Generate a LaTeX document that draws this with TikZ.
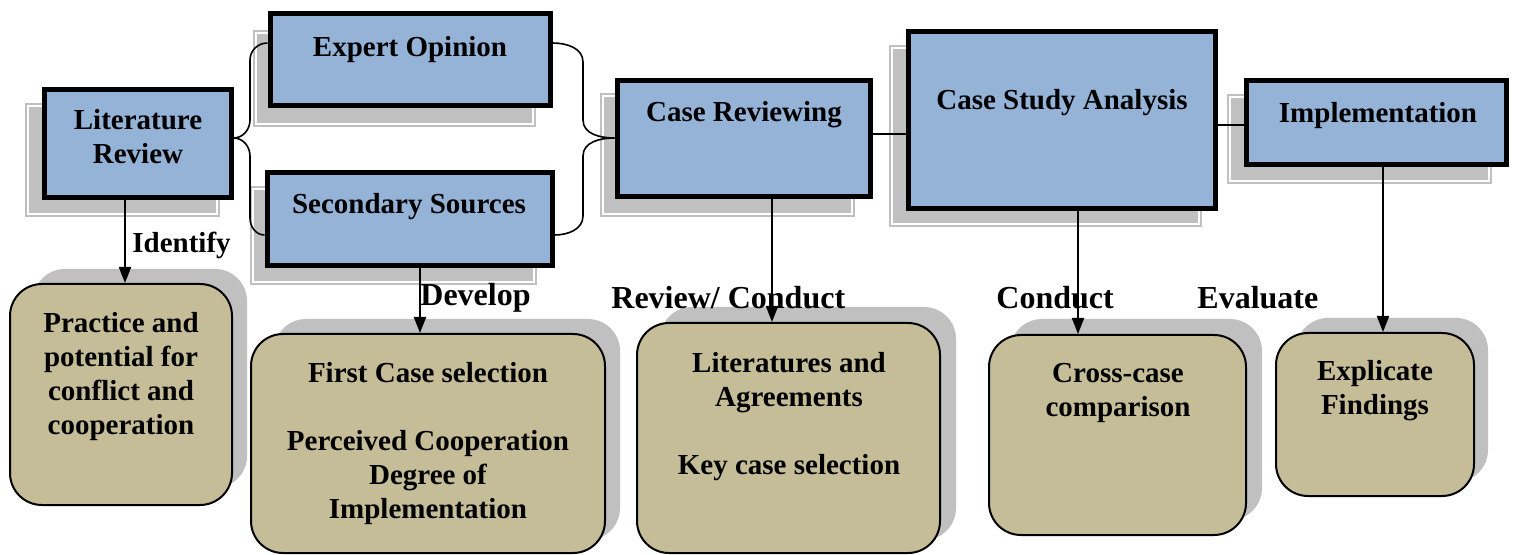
\documentclass[tikz,border=0pt]{standalone}
\usepackage{fontspec}
\setmainfont{Liberation Serif}
\usetikzlibrary{fit,arrows.meta,calc}
\definecolor{boxblue}{HTML}{95B3D7}
\definecolor{boxtan}{HTML}{C4BD97}
\definecolor{shadowgray}{HTML}{C0C0C0}
\newcommand\bshadow[4]{%
  \fill[shadowgray] (#1,#2) rectangle (#3,#4);
  \draw[white, line width=0.7pt] (#1+3,#2+3) rectangle (#3-3,#4-3);}
\newcommand\tshadow[4]{%
  \fill[shadowgray, rounded corners=16pt] (#1,#2) rectangle (#3,#4);}
\tikzset{
  bluebox/.style={draw=black, line width=2.5pt, fill=boxblue, inner sep=0pt},
  tanbox/.style={draw=black, line width=1pt, fill=boxtan, rounded corners=16pt, inner sep=0pt},
  txt/.style={font=\fontsize{14.5}{17}\selectfont\bfseries, align=center, inner sep=0pt},
  lbl/.style={font=\fontsize{14.5}{17}\selectfont\bfseries, inner sep=0pt, anchor=west},
  biglbl/.style={font=\fontsize{16}{19}\selectfont\bfseries, inner sep=0pt, anchor=west},
  arr/.style={line width=1pt, -{Triangle[length=8pt,width=6pt]}},
  conn/.style={line width=1pt},
  brace/.style={line width=0.8pt},
}
\begin{document}
\begin{tikzpicture}[x=0.5pt, y=-0.5pt]
\useasboundingbox (0,0) rectangle (1520,555);
% shadows of blue boxes
\bshadow{25}{103}{220}{217}
\bshadow{253}{30}{536}{127}
\bshadow{250}{186}{537}{285}
\bshadow{600}{93}{855}{217}
\bshadow{889}{45}{1202}{227}
\bshadow{1227}{94}{1492}{184}
% shadows of tan boxes
\tshadow{33}{269}{247}{488}
\tshadow{274}{319}{620}{540}
\tshadow{660}{307}{956}{540}
\tshadow{1010}{319}{1262}{520}
\tshadow{1296}{318}{1488}{482}
% blue boxes
\node[bluebox, fit={(44,90) (231,198)}] (lit) {};
\node[bluebox, fit={(270,14) (550,106)}] (exp) {};
\node[bluebox, fit={(267,173) (552,266)}] (sec) {};
\node[bluebox, fit={(617,81) (870,197)}] (rev) {};
\node[bluebox, fit={(908,32) (1215,209)}] (csa) {};
\node[bluebox, fit={(1246,81) (1506,165)}] (imp) {};
% tan boxes
\node[tanbox, fit={(10,284) (232,505)}] (prac) {};
\node[tanbox, fit={(251,334) (605,553)}] (first) {};
\node[tanbox, fit={(637,323) (940,553)}] (lit2) {};
\node[tanbox, fit={(989,335) (1246,535)}] (cross) {};
\node[tanbox, fit={(1276,333) (1474,496)}] (expl) {};
% texts
\node[txt] (tlit) at (138,137) {Literature\\Review};
\node[txt] (texp) at (410,50) {Expert Opinion};
\node[txt] (tsec) at (409,207) {Secondary Sources};
\node[txt] (trev) at (744,115) {Case Reviewing};
\node[txt] (tcsa) at (1062,103) {Case Study Analysis};
\node[txt] (timp) at (1378,116) {Implementation};
\node[txt] (tprac) at (121,377) {Practice and\\potential for\\conflict and\\cooperation};
\node[txt] (tfirst) at (428,444) {First Case selection\\[17pt]Perceived Cooperation\\Degree of\\Implementation};
\node[txt] (tlit2) at (789,417) {Literatures and\\Agreements\\[17pt]Key case selection};
\node[txt] (tcross) at (1118,393) {Cross-case\\comparison};
\node[txt] (texpl) at (1375,391) {Explicate\\Findings};
% labels
\node[lbl] (lid) at (132,245) {Identify};
\node[biglbl] (ldev) at (420,298) {Develop};
\node[biglbl] (lrev) at (611,298) {Review/ Conduct};
\node[biglbl] (lcon) at (996,298) {Conduct};
\node[biglbl] (leva) at (1197,298) {Evaluate};
% arrow x positions
\coordinate (xa) at (125,0);
\coordinate (xb) at (420,0);
\coordinate (xc) at (772,0);
\coordinate (xd) at (1078,0);
\coordinate (xe) at (1383,0);
\draw[arr] (lit.south -| xa) -- (prac.north -| xa);
\draw[arr] (sec.south -| xb) -- (first.north -| xb);
\draw[arr] (rev.south -| xc) -- (lit2.north -| xc);
\draw[arr] (csa.south -| xd) -- (cross.north -| xd);
\draw[arr] (imp.south -| xe) -- (expl.north -| xe);
% horizontal connectors
\coordinate (ya) at (0,134);
\coordinate (yb) at (0,125);
\draw[conn] (rev.east |- ya) -- (csa.west |- ya);
\draw[conn] (csa.east |- yb) -- (imp.west |- yb);
% braces
\coordinate (lt) at (0,138);
\coordinate (ye) at (0,43);
\coordinate (ys) at (0,235);
\draw[brace] (exp.west |- ye) to[out=180,in=90] (250,60) -- (250,120) to[out=-90,in=0] (lit.east |- lt);
\draw[brace] (sec.west |- ys) to[out=180,in=-90] (250,218) -- (250,156) to[out=90,in=0] (lit.east |- lt);
\draw[brace] (exp.east |- ye) to[out=0,in=90] (583,62) -- (583,120) to[out=-90,in=180] (rev.west |- lt);
\draw[brace] (sec.east |- ys) to[out=0,in=-90] (583,216) -- (583,156) to[out=90,in=180] (rev.west |- lt);
\end{tikzpicture}
\end{document}
